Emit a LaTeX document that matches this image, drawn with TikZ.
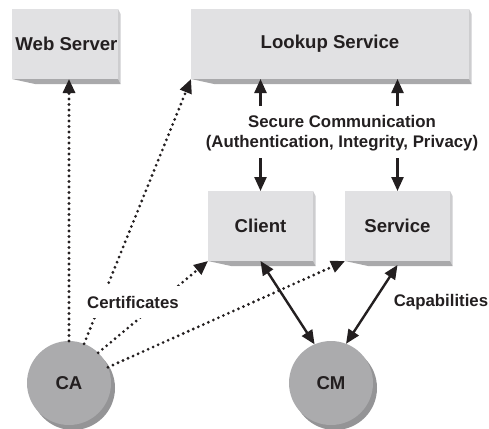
\documentclass[tikz,border=0pt]{standalone}
\usepackage{fontspec}
\setmainfont{Liberation Sans}
\usetikzlibrary{arrows.meta,backgrounds}
\definecolor{boxfill}{HTML}{E1E1E3}
\definecolor{boxbottom}{HTML}{A9A9AB}
\definecolor{boxside}{HTML}{CDCDCF}
\definecolor{discfill}{HTML}{ABABAD}
\definecolor{discshade}{HTML}{949496}
\definecolor{ink}{HTML}{231F20}
\tikzset{
  box/.style={rectangle, fill=boxfill, inner sep=0pt, outer sep=0pt,
    minimum height=70pt, font=\fontsize{18.6}{21}\selectfont\bfseries, text=ink},
  disc/.style={circle, fill=discfill, inner sep=0pt, outer sep=0pt,
    minimum size=84pt, font=\fontsize{18.6}{21}\selectfont\bfseries, text=ink},
  lbl/.style={font=\fontsize{16.8}{20}\selectfont\bfseries, text=ink, align=center, inner sep=0pt},
  tip/.style={-{Triangle[length=14pt,width=12pt]}},
  solidarrow/.style={tip, draw=ink, line width=2.4pt},
  dblarrow/.style={{Triangle[length=14pt,width=12pt]}-{Triangle[length=14pt,width=12pt]}, draw=ink, line width=2.4pt},
  dotline/.style={tip, draw=ink, line width=3.1pt, line cap=round, dash pattern=on 0pt off 5.5pt},
}
\begin{document}
\begin{tikzpicture}[x=1pt,y=-1pt]
\useasboundingbox (0,0) rectangle (489,428);

% boxes
\node[box, minimum width=106pt] (ws) at (65,44) {\hspace*{3pt}Web Server};
\node[box, minimum width=278pt] (ls) at (330,44) {Lookup Service};
\node[box, minimum width=105pt] (cl) at (260.5,226) {Client};
\node[box, minimum width=105pt] (sv) at (397.5,226) {Service};

% discs
\node[disc] (ca) at (69,383) {CA};
\node[disc] (cm) at (331,383) {CM};

\begin{pgfonlayer}{background}
  \foreach \n in {ws,ls,cl,sv} {
    \fill[boxside] (\n.north east) -- ([shift={(2.5pt,-5pt)}]\n.north east)
      -- ([shift={(2.5pt,-5pt)}]\n.south east) -- (\n.south east) -- cycle;
    \fill[boxbottom] (\n.south west) -- ([shift={(23pt,-5pt)}]\n.south west)
      -- ([shift={(2.5pt,-5pt)}]\n.south east) -- (\n.south east) -- cycle;
  }
  \foreach \n in {ca,cm} {
    \fill[discshade] ([shift={(4pt,-5pt)}]\n.center) circle[radius=42pt];
  }
\end{pgfonlayer}

% secure communication label
\node[lbl] (sc) at (342,133) {Secure Communication\\(Authentication, Integrity, Privacy)};
\coordinate (u1) at (260.5,106);
\coordinate (u2) at (397.5,106);
\coordinate (d1) at (260.5,158);
\coordinate (d2) at (397.5,158);
\draw[solidarrow] (u1) -- (u1 |- ls.south);
\draw[solidarrow] (u2) -- (u2 |- ls.south);
\draw[solidarrow] (d1) -- (cl.north);
\draw[solidarrow] (d2) -- (sv.north);

% capabilities
\draw[dblarrow] (cl.south) -- (cm.113);
\draw[dblarrow] ([yshift=-4pt]sv.south) -- (cm.69);
\node[lbl] (cap) at (441,302) {Capabilities};

% certificates
\draw[dotline] (ca.north) -- (ca.north |- ws.south);
\draw[dotline] (ca.69) -- (ls.south west);
\draw[dotline] (ca.46) -- (cl.south west);
\draw[dotline] (ca.22) -- (sv.south west);
\node[lbl, fill=white, inner xsep=3pt, inner ysep=10pt] (cert) at (133,302) {Certificates};
\end{tikzpicture}
\end{document}
